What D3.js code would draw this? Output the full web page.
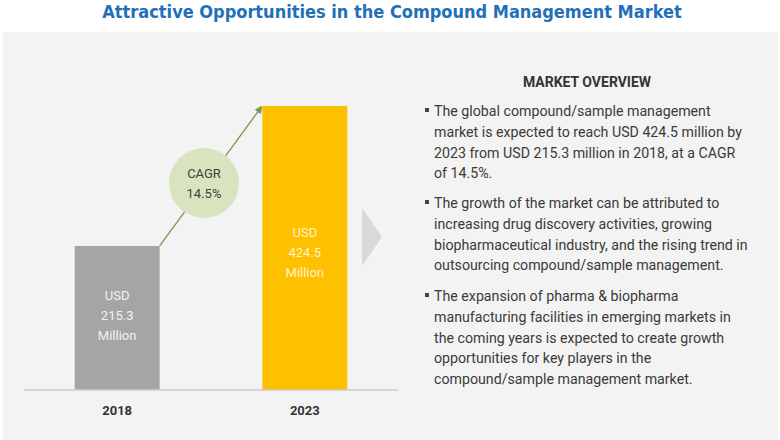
<!DOCTYPE html>
<html>
<head>
<meta charset="utf-8">
<script src="https://cdn.jsdelivr.net/npm/d3@7"></script>
<style>
  body { margin: 0; background: #ffffff; }
  svg { display: block; }
</style>
</head>
<body>
<div id="canvas"></div>
<script>
var years = ["2018", "2023"];
var values = [215.3, 424.5];
var valueLabels = [["USD", "215.3", "Million"], ["USD", "424.5", "Million"]];
var cagrLabel = ["CAGR", "14.5%"];
var titleText = "Attractive Opportunities in the Compound Management Market";
var overviewTitle = "MARKET OVERVIEW";
var bullets = [
    ["The global compound/sample management",
     "market is expected to reach USD 424.5 million by",
     "2023 from USD 215.3 million in 2018, at a CAGR",
     "of 14.5%."],
    ["The growth of the market can be attributed to",
     "increasing drug discovery activities, growing",
     "biopharmaceutical industry, and the rising trend in",
     "outsourcing compound/sample management."],
    ["The expansion of pharma & biopharma",
     "manufacturing facilities in emerging markets in",
     "the coming years is expected to create growth",
     "opportunities for key players in the",
     "compound/sample management market."]
];

var width = 780, height = 440;
var font = "Roboto, 'Liberation Sans', sans-serif";

var svg = d3.select("#canvas").append("svg")
    .attr("width", width)
    .attr("height", height);

// panel background
svg.append("rect")
    .attr("x", 3).attr("y", 32)
    .attr("width", 775).attr("height", 408)
    .attr("fill", "#f3f3f3");

// title
svg.append("text")
    .attr("x", 392).attr("y", 18)
    .attr("text-anchor", "middle")
    .style("font-family", "'DejaVu Sans Condensed', 'DejaVu Sans', sans-serif")
    .style("font-weight", "bold")
    .style("font-size", "18px")
    .style("fill", "#2170b8")
    .text(titleText);

var baseY = 390;
var x = d3.scaleBand().domain(years).range([24, 398]).paddingInner(0.547).paddingOuter(0.27);
var y = d3.scaleLinear().domain([0, 424.5]).range([baseY, 106]);
var barColors = ["#a5a5a5", "#ffc000"];

var data = years.map(function (d, i) {
    return { year: d, value: values[i], label: valueLabels[i], color: barColors[i] };
});

var chart = svg.append("g");

chart.selectAll(".bar").data(data).enter().append("rect")
    .attr("class", "bar")
    .attr("x", function (d) { return x(d.year); })
    .attr("y", function (d) { return y(d.value); })
    .attr("width", x.bandwidth())
    .attr("height", function (d) { return baseY - y(d.value); })
    .style("fill", function (d) { return d.color; });

// baseline
chart.append("line")
    .attr("x1", 24).attr("x2", 398)
    .attr("y1", baseY).attr("y2", baseY)
    .style("stroke", "#cccccc")
    .style("stroke-width", 1.5);

// year labels
chart.selectAll(".year").data(data).enter().append("text")
    .attr("class", "year")
    .attr("x", function (d) { return x(d.year) + x.bandwidth() / 2; })
    .attr("y", 415)
    .attr("text-anchor", "middle")
    .style("font-family", font)
    .style("font-weight", "bold")
    .style("font-size", "13px")
    .style("fill", "#333333")
    .text(function (d) { return d.year; });

// value labels inside bars
var labelTop = [300, 237];
chart.selectAll(".vlabel").data(data).enter().append("text")
    .attr("class", "vlabel")
    .attr("text-anchor", "middle")
    .style("font-family", font)
    .style("font-size", "13px")
    .style("fill", function (d, i) { return i === 0 ? "#f2f2f2" : "#fff4cc"; })
    .each(function (d, i) {
        var t = d3.select(this);
        d.label.forEach(function (s, j) {
            t.append("tspan")
                .attr("x", x(d.year) + x.bandwidth() / 2)
                .attr("y", labelTop[i] + j * 20)
                .text(s);
        });
    });

// arrow between bar tops
svg.append("defs").append("marker")
    .attr("id", "arrowHead")
    .attr("viewBox", "0 0 10 10")
    .attr("refX", 8).attr("refY", 5)
    .attr("markerWidth", 6).attr("markerHeight", 6)
    .attr("orient", "auto")
    .append("path")
    .attr("d", "M0,0 L10,5 L0,10 z")
    .style("fill", "#7f9450");

var x1 = x(years[0]) + x.bandwidth(), y1 = y(values[0]);
var x2 = x(years[1]) - 1, y2 = y(values[1]) + 1;
chart.append("line")
    .attr("x1", x1).attr("y1", y1)
    .attr("x2", x2).attr("y2", y2)
    .style("stroke", "#7f9450")
    .style("stroke-width", 1.3)
    .attr("marker-end", "url(#arrowHead)");

// CAGR bubble
var cx = 204, cy = 183;
chart.append("circle")
    .attr("cx", cx).attr("cy", cy).attr("r", 35)
    .style("fill", "#d8e4bf");
chart.append("text")
    .attr("text-anchor", "middle")
    .style("font-family", font)
    .style("font-size", "13px")
    .style("fill", "#404040")
    .selectAll("tspan").data(cagrLabel).enter().append("tspan")
    .attr("x", cx)
    .attr("y", function (d, i) { return 178 + i * 20; })
    .text(function (d) { return d; });

// chevron
svg.append("path")
    .attr("d", "M362,208 L382,237 L362,266 Z")
    .style("fill", "#d9d9d9");

// overview text
var right = svg.append("g");
right.append("text")
    .attr("x", 587).attr("y", 87)
    .attr("text-anchor", "middle")
    .style("font-family", font)
    .style("font-weight", "bold")
    .style("font-size", "14px")
    .style("fill", "#333333")
    .text(overviewTitle);

var paraTop = [116, 208, 301];
var lineH = 20.8;
bullets.forEach(function (lines, p) {
    right.append("rect")
        .attr("x", 425).attr("y", paraTop[p] - 8)
        .attr("width", 4).attr("height", 4)
        .style("fill", "#444444");
    right.append("text")
        .style("font-family", font)
        .style("font-size", "14.2px")
        .style("fill", "#3a3a3a")
        .selectAll("tspan").data(lines).enter().append("tspan")
        .attr("x", 434)
        .attr("y", function (d, i) { return paraTop[p] + i * lineH; })
        .text(function (d) { return d; });
});
</script>
</body>
</html>
